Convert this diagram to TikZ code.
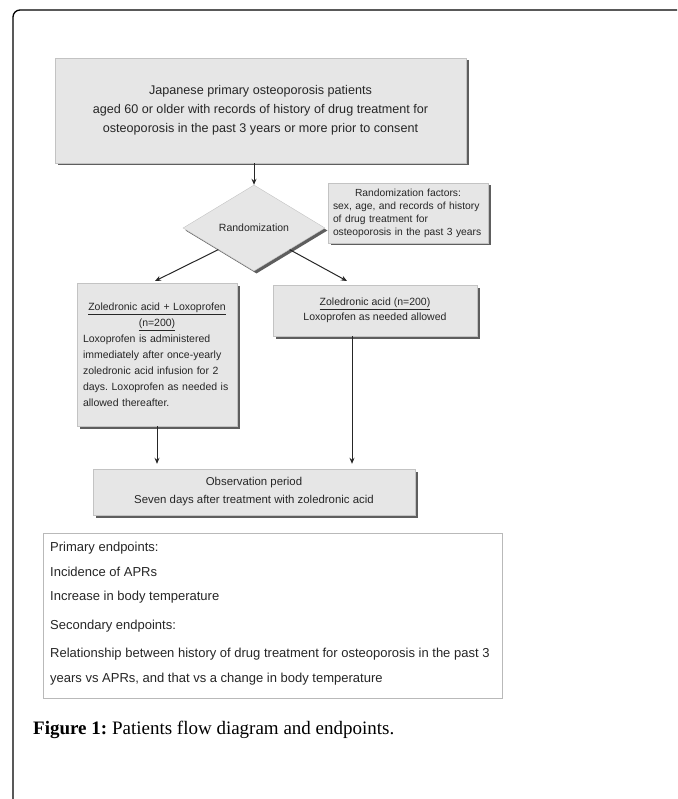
\documentclass[tikz,border=0pt]{standalone}
\usepackage{fontspec}
\setmainfont{Liberation Sans}
\newfontfamily\capfont{Liberation Serif}
\usetikzlibrary{shapes.geometric,shadows,arrows.meta}
\definecolor{boxfill}{HTML}{E6E6E6}
\definecolor{shadowc}{HTML}{5E5E5E}
\definecolor{txt}{HTML}{262626}
\frenchspacing
\begin{document}
\begin{tikzpicture}[x=1pt,y=-1pt,
  gbox/.style={fill=boxfill, draw=boxfill!85!black, line width=0.4pt, inner sep=0pt,
    copy shadow={shadow xshift=2.5pt, shadow yshift=-2.5pt, fill=shadowc, draw=none}, text=txt},
  arr/.style={draw=black!85, line width=1pt, -{Stealth[length=6pt,width=5pt]}},
  eptext/.style={anchor=base west, inner sep=0pt, text=txt, font=\fontsize{13}{16}\selectfont},
]
\useasboundingbox (0,0) rectangle (677,799);
% outer frame
\draw[line width=1.3pt, rounded corners=7pt] (13,799) -- (13,10) -- (677,10);

% top box
\node[gbox, minimum width=411pt, minimum height=105pt, align=center,
  font=\fontsize{12.6}{19}\selectfont] (top) at (260.5,110.5)
  {Japanese primary osteoporosis patients\\
   aged 60 or older with records of history of drug treatment for\\
   osteoporosis in the past 3 years or more prior to consent};

% randomization diamond
\node[gbox, shape=diamond, aspect=1.65, minimum width=142pt, minimum height=86pt,
  font=\fontsize{10.5}{12}\selectfont] (dia) at (254,228) {Randomization};

% randomization factors
\node[gbox, minimum width=160pt, minimum height=60pt, text width=150pt, align=left,
  font=\fontsize{10.3}{13}\selectfont] (fac) at (408,213)
  {{\centering Randomization factors:\par}
   \mbox{sex, age, and records of history}\\
   \mbox{of drug treatment for}\\
   \mbox{osteoporosis in the past 3 years}};

% left arm
\node[gbox, minimum width=160pt, minimum height=143pt, text width=148pt, align=left,
  font=\fontsize{10.5}{16}\selectfont] (lbox) at (157,354.5)
  {{\centering \underline{Zoledronic acid + Loxoprofen}\\ \underline{(n=200)}\par}
   \mbox{Loxoprofen is administered}\\
   \mbox{immediately after once-yearly}\\
   \mbox{zoledronic acid infusion for 2}\\
   \mbox{days. Loxoprofen as needed is}\\
   \mbox{allowed thereafter.}};

% right arm
\node[gbox, minimum width=204pt, minimum height=51pt, align=center,
  font=\fontsize{10.5}{15}\selectfont] (rbox) at (375,310.5)
  {\underline{Zoledronic acid (n=200)}\\
   Loxoprofen as needed allowed};

% observation
\node[gbox, minimum width=322pt, minimum height=46pt, align=center,
  font=\fontsize{11.4}{18}\selectfont] (obs) at (254,492)
  {Observation period\\
   Seven days after treatment with zoledronic acid};

% endpoints box
\node[draw=gray!55, line width=0.8pt, fill=white, minimum width=459pt, minimum height=165pt,
  inner sep=0pt] (ep) at (272.5,615.5) {};
\node[eptext] (ep1) at (50,551.5) {Primary endpoints:};
\node[eptext] (ep2) at (50,576.5) {Incidence of APRs};
\node[eptext] (ep3) at (50,600) {Increase in body temperature};
\node[eptext] (ep4) at (50,629.5) {Secondary endpoints:};
\node[eptext] (ep5) at (50,657.5) {Relationship between history of drug treatment for osteoporosis in the past 3};
\node[eptext] (ep6) at (50,682.5) {years vs APRs, and that vs a change in body temperature};

% caption
\node[anchor=base west, inner sep=0pt, font=\capfont\fontsize{19}{24}\selectfont] (cap) at (33,734)
  {\textbf{Figure 1:} Patients flow diagram and endpoints.};

% connectors
\coordinate (la) at (155,281);
\coordinate (ra) at (347,281);
\coordinate (rb) at (352,336);
\draw[arr] (top.south -| dia.north) -- (dia.north);
\draw[arr] (dia.south west) -- (la);
\draw[arr] (dia.south east) -- (ra);
\draw[arr, shorten >=5pt] (lbox.south) -- (lbox.south |- obs.north);
\draw[arr, shorten >=5pt] (rb) -- (rb |- obs.north);
\end{tikzpicture}
\end{document}
